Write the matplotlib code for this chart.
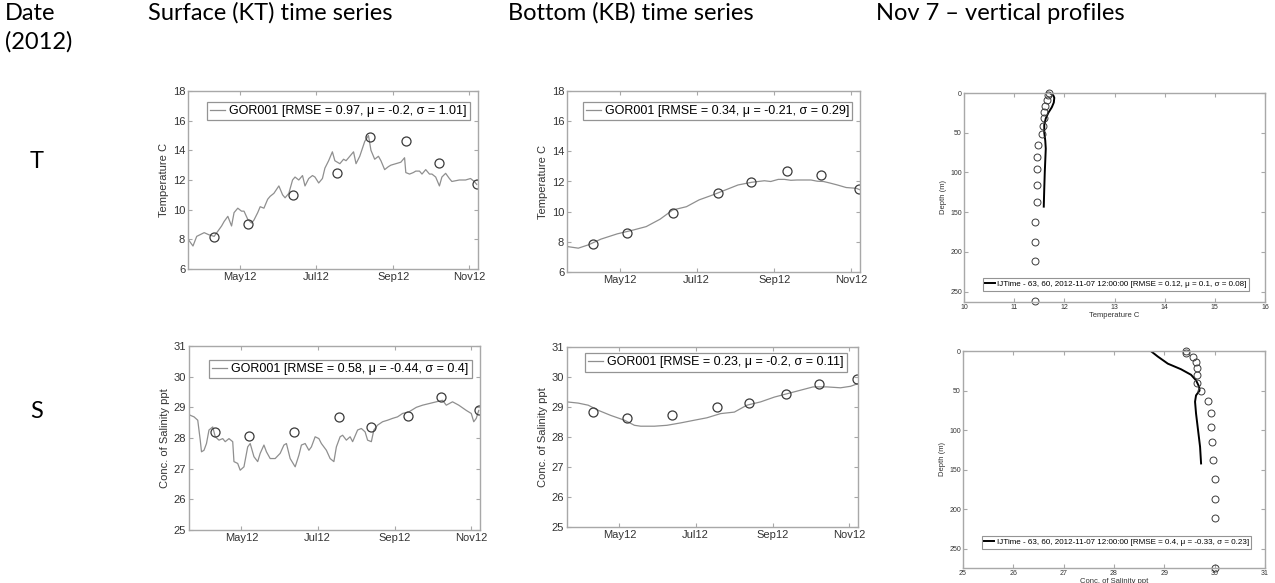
import datetime as dt
import matplotlib
matplotlib.use("Agg")
import matplotlib.pyplot as plt
import matplotlib.dates as mdates

# ---------------- data ----------------
# days counted from 2012-05-01
kt_T_days = [-41,-38,-35,-29,-25,-21,-18,-15,-13,-10,-7,-5,-2,1,3,6,9,11,14,16,
             19,22,24,27,31,34,36,39,42,44,47,50,52,55,58,60,63,66,68,71,
             74,76,80,83,85,88,91,93,96,100,103,105,108,111,113,116,119,121,125,129,
             132,133,136,139,141,144,146,149,152,154,157,160,162,165,168,170,176,181,185,188,190]
kt_T_vals = [7.9,7.55,8.2,8.45,8.3,8.2,8.55,8.9,9.2,9.55,8.9,9.8,10.1,9.9,9.9,9.35,9.1,9.3,9.8,10.2,
             10.1,10.7,10.9,11.1,11.6,11.0,10.8,11.1,12.0,12.2,12.0,12.3,11.6,12.1,12.3,12.2,11.8,12.1,12.8,13.3,
             13.9,13.3,13.1,13.4,13.3,13.6,13.9,13.1,13.6,14.6,15.0,14.0,13.4,13.6,13.3,12.7,12.9,13.0,13.1,13.2,
             13.5,12.5,12.4,12.5,12.6,12.6,12.4,12.7,12.4,12.4,12.2,11.6,12.2,12.45,12.1,11.9,12.0,12.0,12.1,11.9,11.7]

kb_T_days = [-42,-33,-25,-15,-2,11,21,32,42,53,63,74,84,94,105,115,120,126,131,136,141,147,152,157,162,167,173,180,188,191]
kb_T_vals = [7.69,7.58,7.8,8.18,8.53,8.79,9.01,9.5,10.11,10.33,10.78,11.11,11.44,11.77,11.95,12.05,12.0,12.14,12.14,12.08,
             12.1,12.1,12.1,12.02,12.0,11.9,11.77,11.6,11.55,11.45]

kt_S_days = [-44,-41,-38,-35,-33,-32,-30,-28,-26,-23,-21,-18,-15,-13,-10,-7,-6,-3,-1,2,
             5,7,10,13,15,18,20,23,27,31,34,36,39,43,46,48,51,54,56,59,
             62,64,68,71,74,76,79,81,84,87,89,93,96,99,101,104,106,109,113,117,
             121,125,129,134,140,145,150,156,161,164,169,174,180,184,186,188,190]
kt_S_vals = [28.85,28.74,28.69,28.58,27.93,27.55,27.6,27.82,28.26,28.36,28.04,27.93,27.98,27.88,27.98,27.88,27.23,27.17,26.95,27.06,
             27.71,27.82,27.39,27.23,27.5,27.77,27.55,27.33,27.33,27.5,27.77,27.82,27.33,27.06,27.44,27.77,27.82,27.6,27.71,28.04,
             27.98,27.82,27.6,27.33,27.23,27.71,28.04,28.09,27.93,28.04,27.88,28.26,28.31,28.2,27.93,27.88,28.26,28.42,28.53,28.58,
             28.64,28.69,28.8,28.85,29.0,29.07,29.12,29.18,29.23,29.07,29.18,29.07,28.9,28.8,28.53,28.64,28.9]

kb_S_days = [-42,-33,-25,-17,-7,4,12,17,28,38,49,60,70,81,92,102,113,124,134,145,155,166,177,185,191]
kb_S_vals = [29.17,29.13,29.06,28.89,28.72,28.56,28.39,28.36,28.36,28.39,28.47,28.56,28.64,28.78,28.83,29.06,29.17,29.33,29.44,29.56,
             29.67,29.67,29.64,29.69,29.78]

obs_days = [-21, 6, 42, 78, 104, 133, 160, 190]
kt_T_obs = [8.15, 9.05, 11.0, 12.45, 14.9, 14.65, 13.15, 11.7]
kb_T_obs = [7.85, 8.57, 9.94, 11.22, 11.99, 12.71, 12.4, 11.48]
kt_S_obs = [28.2, 28.08, 28.19, 28.68, 28.36, 28.72, 29.34, 28.9]
kb_S_obs = [28.84, 28.64, 28.73, 29.01, 29.14, 29.44, 29.78, 29.94]

legend_labels = ["GOR001 [RMSE = 0.97, \u03bc = -0.2, \u03c3 = 1.01]",
                 "GOR001 [RMSE = 0.34, \u03bc = -0.21, \u03c3 = 0.29]",
                 "GOR001 [RMSE = 0.58, \u03bc = -0.44, \u03c3 = 0.4]",
                 "GOR001 [RMSE = 0.23, \u03bc = -0.2, \u03c3 = 0.11]"]

# profiles (Nov 7)
prof_T_obs_depth = [0, 3, 9, 16, 24, 32, 41, 52, 65, 80, 96, 116, 137, 162, 187, 212, 262]
prof_T_obs_vals = [11.70, 11.68, 11.65, 11.62, 11.60, 11.59, 11.58, 11.56, 11.48, 11.45, 11.45, 11.45, 11.45, 11.41, 11.41, 11.41, 11.42]
prof_T_mod_depth = [0, 3, 6, 12, 18, 25, 32, 40, 50, 60, 70, 85, 100, 120, 143]
prof_T_mod_vals = [11.71, 11.78, 11.80, 11.79, 11.75, 11.68, 11.63, 11.60, 11.60, 11.62, 11.63, 11.62, 11.61, 11.60, 11.59]

prof_S_obs_depth = [0, 2, 7, 14, 21, 30, 40, 51, 63, 78, 96, 115, 137, 162, 187, 211, 274]
prof_S_obs_vals = [29.43, 29.43, 29.57, 29.63, 29.65, 29.65, 29.65, 29.73, 29.87, 29.92, 29.93, 29.95, 29.97, 30.01, 30.01, 30.01, 30.01]
prof_S_mod_depth = [1, 7, 16, 23, 30, 37, 45, 50, 56, 64, 79, 100, 121, 142]
prof_S_mod_vals = [28.75, 28.87, 29.07, 29.33, 29.53, 29.63, 29.69, 29.70, 29.63, 29.61, 29.63, 29.67, 29.71, 29.73]

prof_labels = ["IJTime - 63, 60, 2012-11-07 12:00:00 [RMSE = 0.12, \u03bc = 0.1, \u03c3 = 0.08]",
               "IJTime - 63, 60, 2012-11-07 12:00:00 [RMSE = 0.4, \u03bc = -0.33, \u03c3 = 0.23]"]

# ---------------- figure ----------------
W, H = 1275, 583
fig = plt.figure(figsize=(W / 100, H / 100), dpi=100)
fig.patch.set_facecolor("white")

plt.rcParams["font.family"] = ["Liberation Sans", "DejaVu Sans"]

def rect(l, t, r, b):
    return [l / W, 1 - b / H, (r - l) / W, (b - t) / H]

base = dt.datetime(2012, 5, 1)
def to_dates(days):
    return [base + dt.timedelta(days=d) for d in days]

SPINE = "#a8a8a8"
TXT = "#333333"
LINE = "#8f8f8f"

def style(ax, fs):
    for s in ax.spines.values():
        s.set_color(SPINE)
        s.set_linewidth(1.0)
    ax.tick_params(direction="in", top=True, right=True, colors=SPINE,
                   labelcolor=TXT, labelsize=fs, length=3, width=0.8, pad=2)

def ts_panel(r, days, vals, obs, ylim, yticks, ylabel, label, leg_xy):
    ax = fig.add_axes(rect(*r))
    ax.plot(to_dates(days), vals, color=LINE, lw=0.9, label=label)
    ax.plot(to_dates(obs_days), obs, ls="none", marker="o", ms=6.5, mfc="none",
            mec="#3a3a3a", mew=0.9)
    ax.set_xlim(dt.datetime(2012, 3, 20), dt.datetime(2012, 11, 8))
    ax.set_ylim(*ylim)
    ax.set_yticks(yticks)
    ax.set_xticks([dt.datetime(2012, m, 1) for m in (5, 7, 9, 11)])
    ax.xaxis.set_major_formatter(mdates.DateFormatter("%b%y"))
    ax.set_ylabel(ylabel, fontsize=8, color=TXT, labelpad=3)
    style(ax, 8)
    leg = ax.legend(loc="upper left", bbox_to_anchor=leg_xy, borderaxespad=0,
                    fontsize=9, frameon=True, fancybox=False, handlelength=1.2,
                    handletextpad=0.3, borderpad=0.25)
    leg.get_frame().set_edgecolor("#7a7a7a")
    leg.get_frame().set_linewidth(0.9)
    return ax

ts_panel((188, 91, 478, 269), kt_T_days, kt_T_vals, kt_T_obs, (6, 18), range(6, 19, 2),
         "Temperature C", legend_labels[0], (0.066, 0.938))
ts_panel((567, 91, 860, 272), kb_T_days, kb_T_vals, kb_T_obs, (6, 18), range(6, 19, 2),
         "Temperature C", legend_labels[1], (0.054, 0.938))
ts_panel((189, 346, 480, 530), kt_S_days, kt_S_vals, kt_S_obs, (25, 31), range(25, 32),
         "Conc. of Salinity ppt", legend_labels[2], (0.07, 0.924))
ts_panel((567, 347, 858, 527), kb_S_days, kb_S_vals, kb_S_obs, (25, 31), range(25, 32),
         "Conc. of Salinity ppt", legend_labels[3], (0.062, 0.965))

def prof_panel(r, od, ov, md, mv, xlim, ylim_bottom, xlabel, label, leg_y):
    ax = fig.add_axes(rect(*r))
    ax.plot(mv, md, color="black", lw=1.4, label=label)
    ax.plot(ov, od, ls="none", marker="o", ms=5, mfc="none", mec="#3a3a3a",
            mew=0.7, clip_on=False)
    ax.set_xlim(*xlim)
    ax.set_ylim(ylim_bottom, 0)
    ax.set_xticks(range(xlim[0], xlim[1] + 1))
    ax.set_yticks(range(0, 251, 50))
    ax.set_ylabel("Depth (m)", fontsize=5.5, color=TXT, labelpad=2)
    ax.set_xlabel(xlabel, fontsize=5.5, color=TXT, labelpad=0.5)
    style(ax, 5)
    ax.tick_params(pad=1.5)
    leg = ax.legend(loc="lower left", bbox_to_anchor=(0.063, leg_y), borderaxespad=0,
                    fontsize=5.8, frameon=True, fancybox=False, handlelength=1.2,
                    handletextpad=0.3, borderpad=0.3)
    leg.get_frame().set_edgecolor("#7a7a7a")
    leg.get_frame().set_linewidth(0.8)
    return ax

prof_panel((964, 93, 1265, 302), prof_T_obs_depth, prof_T_obs_vals, prof_T_mod_depth,
           prof_T_mod_vals, (10, 16), 263, "Temperature C", prof_labels[0], 0.054)
prof_panel((963, 351, 1265, 568), prof_S_obs_depth, prof_S_obs_vals, prof_S_mod_depth,
           prof_S_mod_vals, (25, 31), 274, "Conc. of Salinity ppt", prof_labels[1], 0.089)

# ---------------- header / row labels ----------------
HF = ["Lato", "DejaVu Sans"]
hs = 17
fig.text(5 / W, 1 - 13 / H, "Date", fontsize=hs, family=HF, va="center", ha="left")
fig.text(5 / W, 1 - 42 / H, "(2012)", fontsize=hs, family=HF, va="center", ha="left")
fig.text(148 / W, 1 - 13 / H, "Surface (KT) time series", fontsize=hs, family=HF, va="center", ha="left")
fig.text(508 / W, 1 - 13 / H, "Bottom (KB) time series", fontsize=hs, family=HF, va="center", ha="left")
fig.text(876 / W, 1 - 13 / H, "Nov 7 \u2013 vertical profiles", fontsize=hs, family=HF, va="center", ha="left")
fig.text(30 / W, 1 - 162 / H, "T", fontsize=hs, family=HF, va="center", ha="left")
fig.text(30 / W, 1 - 412 / H, "S", fontsize=hs, family=HF, va="center", ha="left")

fig.savefig("out.png", dpi=100, facecolor="white")
